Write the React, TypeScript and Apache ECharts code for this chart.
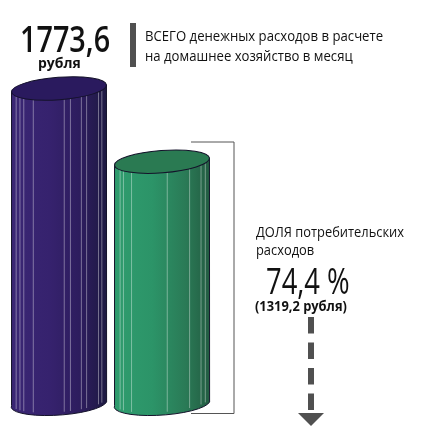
import React, { useEffect, useRef } from "react";
import * as echarts from "echarts";

const categories = ["Всего денежных расходов", "Потребительские расходы"];
const values = [1773.6, 1319.2];
const bodyStops = [
  ["#3a2674", "#36226e", "#2c1c5c", "#1e1a42"],
  ["#2f9c6e", "#2c9468", "#2a7a56", "#235c42"],
];
const topColors = ["#2a1a5e", "#2a7a52"];
const highlightFractions = [
  [0.05, 0.09, 0.13, 0.23, 0.555, 0.62, 0.735, 0.79, 0.915, 0.95],
  [0.06, 0.095, 0.18, 0.555, 0.79, 0.91, 0.955],
];
const TEXT_FONT = "'Open Sans', sans-serif";

export default function App() {
  const ref = useRef<HTMLDivElement>(null);
  useEffect(() => {
    const chart = echarts.init(ref.current!, undefined, { renderer: "svg" });
    const text = (
      str: string, x: number, y: number, fontSize: number, fontWeight: any,
      scaleX = 1, align = "left", fill = "#111"
    ) => ({
      type: "text", x, y, scaleX, originX: 0,
      style: { text: str, fontSize, fontWeight, fontFamily: TEXT_FONT, fill, align, verticalAlign: "middle" },
    });
    chart.setOption({
      animation: false,
      grid: { left: 7.5, width: 206, top: 88.5, height: 312.5 },
      xAxis: { type: "category", data: categories, show: false },
      yAxis: { type: "value", min: -168, max: 1773.6, show: false },
      series: [
        {
          type: "custom",
          data: values.map((v, i) => [i, v]),
          clip: false,
          renderItem: (params: any, api: any) => {
            const i = params.dataIndex;
            const top = api.coord([api.value(0), api.value(1)]);
            const base = api.coord([api.value(0), -168]);
            const rx = 47.6;
            const ry = 11.2;
            const rot = 0.075;
            const dy = rx * Math.sin(rot);
            const cx = top[0];
            const body = `M${cx - rx} ${top[1] + dy}L${cx - rx} ${base[1] + dy}A${rx} ${ry} ${-rot * 180 / Math.PI} 0 0 ${cx + rx} ${base[1] - dy}L${cx + rx} ${top[1] - dy}Z`;
            const stops = bodyStops[i];
            const lines = highlightFractions[i].map((f) => {
              const lx = cx - rx + f * 2 * rx;
              const t = (lx - cx) / rx;
              const off = Math.sqrt(1 - t * t) * ry;
              const slope = -t * dy;
              return {
                type: "line",
                shape: { x1: lx, y1: top[1] + slope + off, x2: lx, y2: base[1] + slope + off },
                style: { stroke: "rgba(255,255,255,0.38)", lineWidth: 1 },
              };
            });
            return {
              type: "group",
              children: [
                {
                  type: "path",
                  shape: { pathData: body, layout: "cover", x: cx - rx, y: top[1] - dy, width: 2 * rx, height: base[1] - top[1] + ry + dy + 1 },
                  style: {
                    fill: new echarts.graphic.LinearGradient(0, 0, 1, 0, [
                      { offset: 0, color: stops[0] },
                      { offset: 0.4, color: stops[1] },
                      { offset: 0.75, color: stops[2] },
                      { offset: 1, color: stops[3] },
                    ]),
                    stroke: "#14122a",
                    lineWidth: 1,
                  },
                },
                ...lines,
                {
                  type: "ellipse",
                  x: cx, y: top[1], rotation: rot,
                  shape: { cx: 0, cy: 0, rx, ry },
                  style: { fill: topColors[i], stroke: "#14122a", lineWidth: 1 },
                },
              ],
            };
          },
        },
      ],
      graphic: {
        elements: [
          { type: "rect", shape: { x: 130, y: 23, width: 6, height: 44 }, style: { fill: "#505050" } },
          text("ВСЕГО денежных расходов в расчете", 145, 35.5, 14, 400, 0.94),
          text("на домашнее хозяйство в месяц", 145, 55, 14, 400, 0.94),
          text("1773,6", 20, 38.5, 36, 600, 0.8),
          text("рубля", 38, 62.5, 15, 700, 0.93),
          { type: "polyline", shape: { points: [[191, 142], [234, 142], [234, 413.5], [191, 413.5]] }, style: { stroke: "#555", lineWidth: 1, fill: "none" } },
          text("ДОЛЯ потребительских", 256, 232, 14, 400, 0.92),
          text("расходов", 256, 250, 14, 400, 0.92),
          text("74,4 %", 266, 280, 36, 500, 0.76),
          text("(1319,2 рубля)", 255, 306, 14, 700, 0.92),
          { type: "line", shape: { x1: 311, y1: 317, x2: 311, y2: 411 }, style: { stroke: "#505050", lineWidth: 6, lineDash: [16.5, 9] } },
          { type: "polygon", shape: { points: [[298, 413], [324, 413], [311, 426]] }, style: { fill: "#505050" } },
        ],
      },
    });
    return () => chart.dispose();
  }, []);
  return <div ref={ref} style={{ width: 432, height: 429, position: "fixed", left: 0, top: 0 }} />;
}
